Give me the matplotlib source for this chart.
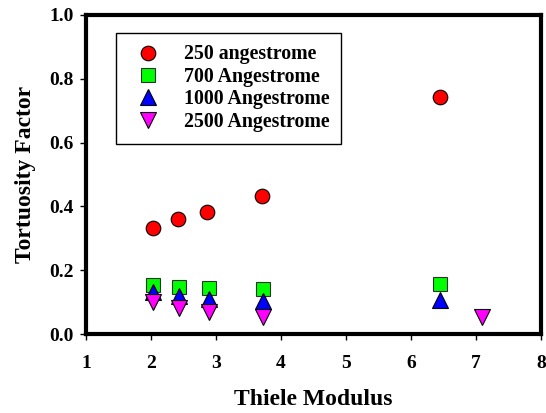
import matplotlib
matplotlib.use("Agg")
import matplotlib.pyplot as plt

plt.rcParams['font.family'] = ['Liberation Serif', 'DejaVu Serif']
plt.rcParams['font.weight'] = 'bold'

# Thiele modulus vs tortuosity factor for each pore size
x_250 = [2.03, 2.42, 2.86, 3.71, 6.44]
y_250 = [0.332, 0.361, 0.383, 0.433, 0.743]

x_700 = [2.03, 2.43, 2.89, 3.72, 6.45]
y_700 = [0.154, 0.147, 0.143, 0.142, 0.156]

x_1000 = [2.03, 2.43, 2.89, 3.72, 6.45]
y_1000 = [0.133, 0.118, 0.111, 0.104, 0.106]

x_2500 = [2.03, 2.43, 2.89, 3.72, 7.09]
y_2500 = [0.100, 0.082, 0.068, 0.053, 0.053]

labels = ['250 angestrome', '700 Angestrome', '1000 Angestrome', '2500 Angestrome']

fig = plt.figure(figsize=(5.46, 4.13), dpi=100)
ax = fig.add_axes([0.1575, 0.191, 0.8335, 0.7727])

ax.plot(x_250, y_250, 'o', color='red', mec='black', mew=0.8, ms=10.5, label=labels[0])
ax.plot(x_700, y_700, 's', color='#00ff00', mec='#303030', mew=0.8, ms=10, label=labels[1])
ax.plot(x_1000, y_1000, '^', color='blue', mec='black', mew=0.8, ms=11, label=labels[2])
ax.plot(x_2500, y_2500, 'v', color='magenta', mec='black', mew=0.8, ms=11, label=labels[3])

ax.set_xlim(1, 8)
ax.set_ylim(0, 1.0)
ax.set_xticks(range(1, 9))
ax.set_yticks([0.0, 0.2, 0.4, 0.6, 0.8, 1.0])
ax.set_yticklabels(['%.1f' % v for v in [0.0, 0.2, 0.4, 0.6, 0.8, 1.0]])

for s in ax.spines.values():
    s.set_linewidth(3)
ax.tick_params(direction='out', length=4, width=1, labelsize=14, pad=5)
ax.tick_params(axis='x', pad=11)
for lab in ax.get_xticklabels() + ax.get_yticklabels():
    lab.set_fontweight('bold')

ax.set_xlabel('Thiele Modulus', fontsize=17, fontweight='bold', labelpad=12)
ax.set_ylabel('Tortuosity Factor', fontsize=17, fontweight='bold', labelpad=9)

leg = ax.legend(loc='upper left', bbox_to_anchor=(0.066, 0.945), fontsize=14.3,
                frameon=True, fancybox=False, edgecolor='black', framealpha=1,
                borderpad=0.6, labelspacing=0.12, handlelength=2.0,
                handletextpad=0.8, borderaxespad=0)
leg.get_frame().set_linewidth(1)
for t in leg.get_texts():
    t.set_fontweight('bold')

fig.savefig('out.png', dpi=100)
